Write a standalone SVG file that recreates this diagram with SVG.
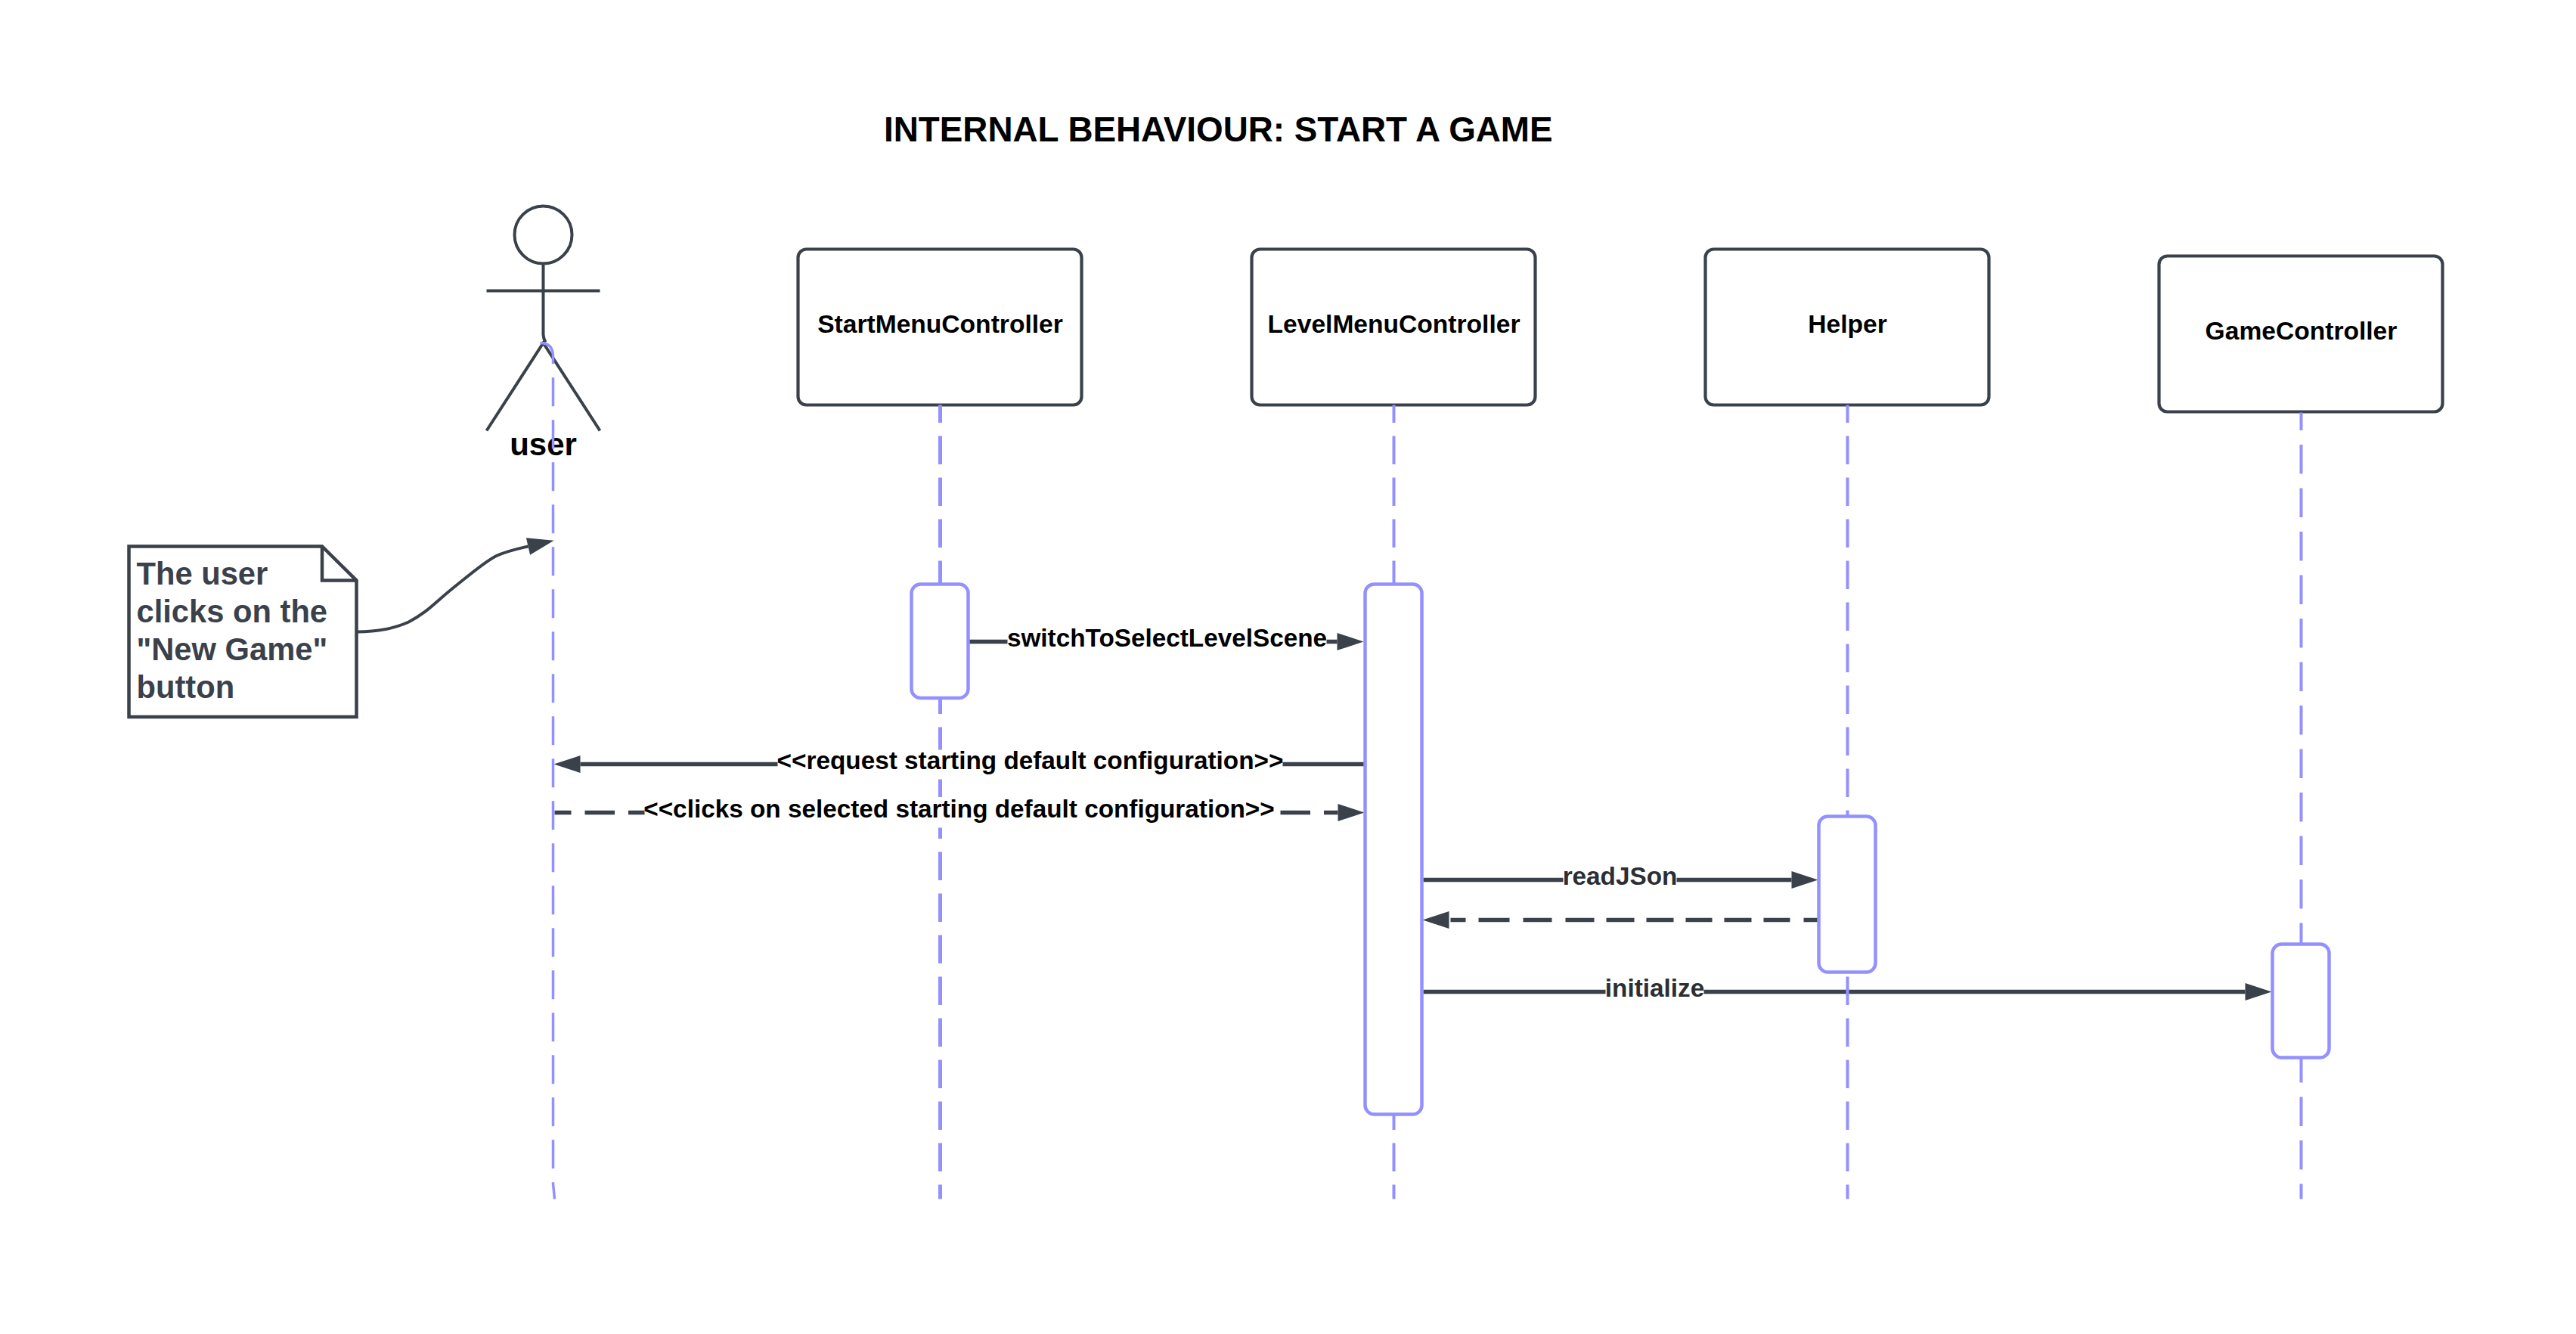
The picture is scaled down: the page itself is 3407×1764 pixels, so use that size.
<svg xmlns="http://www.w3.org/2000/svg" width="3407" height="1764" viewBox="0 0 3407 1764">
<style>
text{font-family:"Liberation Sans",Arial,sans-serif;font-weight:700;fill:#000}
.title{font-size:45.8px}
.name{font-size:33.6px;text-anchor:middle}
.actor{font-size:42px;text-anchor:middle}
.note{font-size:41.7px;fill:#3a414a}
.msg{font-size:33.3px;text-anchor:middle}
.soft{fill:#2b2e33}
.box{fill:#fff;stroke:#3a414a;stroke-width:4.2}
.fig{fill:none;stroke:#3a414a;stroke-width:4}
.act{fill:#fff;stroke:#9391ff;stroke-width:4.5}
.life{fill:none;stroke:#9391ff;stroke-width:4.5;stroke-dasharray:37.5 17.5}
.line{fill:none;stroke:#3a414a;stroke-width:5.3;marker-end:url(#head)}
.bg{fill:#fff}
</style>
<defs>
<marker id="head" markerUnits="userSpaceOnUse" markerWidth="36" markerHeight="24" refX="0" refY="11.5" orient="auto" overflow="visible"><path d="M0 0L35 11.5L0 23Z" fill="#3a414a"/></marker>
</defs>
<rect width="3407" height="1764" fill="#fff"/>
<text class="title" x="1169" y="187">INTERNAL BEHAVIOUR: START A GAME</text>
<g transform="translate(.5 1.500)">
<g id="user">
<circle class="fig" cx="718" cy="309" r="38"/>
<path class="fig" d="M718 347V441Q718.500 447 721 451M643 383H793M643 568L718 452L793 568"/>
<text class="actor" x="718" y="600.500">user</text>
</g>
<g id="StartMenuController">
<rect class="box" x="1055" y="328" width="375" height="206" rx="11"/>
<text class="name" x="1243" y="438">StartMenuController</text>
</g>
<g id="LevelMenuController">
<rect class="box" x="1655" y="328" width="375" height="206" rx="11"/>
<text class="name" x="1843" y="438">LevelMenuController</text>
</g>
<g id="Helper">
<rect class="box" x="2255" y="328" width="375" height="206" rx="11"/>
<text class="name" x="2443" y="438">Helper</text>
</g>
<g id="GameController">
<rect class="box" x="2855" y="337" width="375" height="206" rx="11"/>
<text class="name" x="3043" y="447">GameController</text>
</g>
<g id="note">
<path class="fig" style="stroke-width:4.500" d="M170 721H425.500L471 766V946.500H170ZM425.500 721V766H471"/>
<text class="note" x="180" y="771">The user</text>
<text class="note" x="180" y="821">clicks on the</text>
<text class="note" x="180" y="871">"New Game"</text>
<text class="note" x="180" y="921">button</text>
</g>
<g id="connectors">
<path class="line" style="stroke-width:4" d="M472 834C500 834 520 830 540 821C565 808 575 795 600 775C625 755 640 742 655 734C670 727 685 724 698 721"/>
<path class="line" d="M1281 847H1768"/>
<path class="line" d="M1805 1009H767"/>
<path class="line" style="stroke-dasharray:39.500 18;stroke-dashoffset:17.500" d="M733 1073H1769"/>
<path class="line" d="M1882 1162H2369"/>
<path class="line" style="stroke-dasharray:19 18 35 16 36 16 35 16 36 16 37 16 38 18 38 18 41 17 20" d="M2404 1215H1916"/>
<path class="line" d="M1882 1310H2969"/>
</g>
<g id="lifelines">
<path class="life" style="stroke-width:3.500;stroke-dasharray:38 18" d="M714 452Q731 452 731 470V1564L733 1584"/>
<path class="life" style="stroke-dashoffset:14;stroke-width:5" d="M1243 534V1584"/>
<path class="life" style="stroke-dashoffset:14;stroke-width:4" d="M1843 534V1584"/>
<path class="life" style="stroke-dashoffset:14;stroke-width:4" d="M2443 534V1584"/>
<path class="life" style="stroke-width:4;stroke-dasharray:38.500 19;stroke-dashoffset:15" d="M3043 544V1584"/>
</g>
<g id="activation-start"><rect class="act" x="1205" y="771" width="75" height="150.500" rx="12"/></g>
<g id="activation-level"><rect class="act" x="1805" y="771" width="75" height="701" rx="12"/></g>
<g id="activation-helper"><rect class="act" x="2405" y="1078" width="75" height="206" rx="12"/></g>
<g id="activation-game"><rect class="act" x="3005" y="1247" width="75" height="150" rx="12"/></g>
<g id="labels">
<rect class="bg" x="1332" y="826" width="422" height="40"/>
<text class="msg" x="1543" y="853">switchToSelectLevelScene</text>
<rect class="bg" x="1028" y="990" width="668" height="39"/>
<text class="msg" x="1362" y="1015">&lt;&lt;request starting default configuration&gt;&gt;</text>
<rect class="bg" x="852" y="1054" width="839" height="39"/>
<text class="msg" x="1268" y="1079">&lt;&lt;clicks on selected starting default configuration&gt;&gt;</text>
<rect class="bg" x="2067" y="1142" width="150" height="40"/>
<text class="msg soft" x="2142" y="1168">readJSon</text>
<rect class="bg" x="2123" y="1290" width="130" height="40"/>
<text class="msg soft" x="2188" y="1316">initialize</text>
</g>
</g>
</svg>
